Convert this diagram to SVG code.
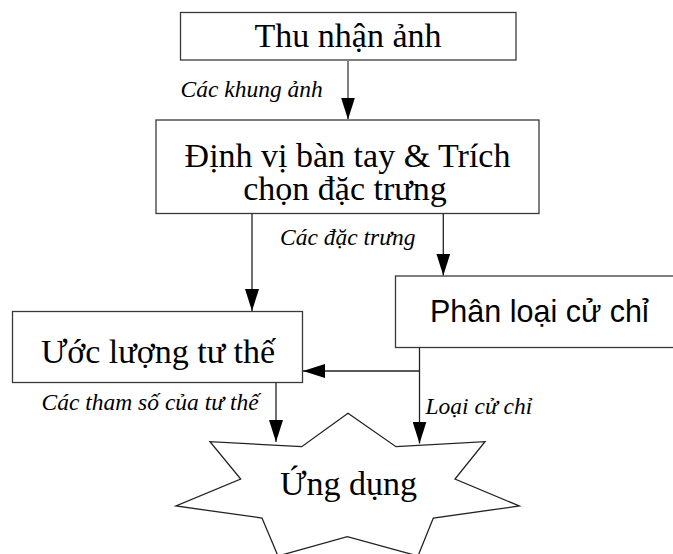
<svg xmlns="http://www.w3.org/2000/svg" width="673" height="554" viewBox="0 0 673 554">
  <style>
    .box { fill: #ffffff; stroke: #3a3a3a; stroke-width: 1.3; }
    .serif { font-family: "Liberation Serif", "Times New Roman", serif; font-size: 34px; fill: #000; }
    .sans { font-family: "Liberation Sans", Arial, sans-serif; font-size: 30.5px; fill: #000; }
    .lbl { font-family: "Liberation Serif", "Times New Roman", serif; font-style: italic; font-size: 23.5px; fill: #000; }
    .wire { fill: none; stroke: #222; stroke-width: 1.3; }
    .wire-grey { fill: none; stroke: #808080; stroke-width: 2; }
  </style>
  <defs>
    <marker id="head" viewBox="0 0 22 14" refX="22" refY="7" markerWidth="22" markerHeight="14" markerUnits="userSpaceOnUse" orient="auto">
      <path d="M0,0 L22,7 L0,14 Z" fill="#000"/>
    </marker>
  </defs>

  <rect width="673" height="554" fill="#ffffff"/>

  <!-- acquisition -->
  <g id="thu-nhan-anh">
    <rect class="box" x="180.5" y="12.5" width="335.5" height="47.5"/>
    <text class="serif" x="348" y="47" text-anchor="middle">Thu nhận ảnh</text>
  </g>

  <!-- hand localisation and feature extraction -->
  <g id="dinh-vi">
    <rect class="box" x="156" y="120" width="383" height="93.5"/>
    <text class="serif" x="347.5" y="166.5" text-anchor="middle">Định vị bàn tay &amp; Trích</text>
    <text class="serif" x="345" y="200" text-anchor="middle">chọn đặc trưng</text>
  </g>

  <!-- gesture classification (runs off the right edge) -->
  <g id="phan-loai">
    <rect class="box" x="395.5" y="276" width="290" height="71.5"/>
    <text class="sans" x="430" y="321.5">Phân loại cử chỉ</text>
  </g>

  <!-- pose estimation -->
  <g id="uoc-luong">
    <rect class="box" x="12.5" y="311.5" width="290" height="71"/>
    <text class="serif" x="158" y="363" text-anchor="middle">Ước lượng tư thế</text>
  </g>

  <!-- application: 7-point star -->
  <g id="ung-dung">
    <polygon points="348,413.3 396,446.7 485,441.7 455,479 519.3,506 433.3,518 418,556 347.3,536.7 278,556 262,518 176,506 240.7,479 210,441.7 301.7,446.7"
             fill="#ffffff" stroke="#222" stroke-width="1.3" stroke-linejoin="miter"/>
    <text class="serif" x="348.5" y="495" text-anchor="middle">Ứng dụng</text>
  </g>

  <!-- connectors -->
  <g id="connectors">
    <line class="wire-grey" x1="348" y1="60" x2="348" y2="119.5" marker-end="url(#head)"/>
    <line class="wire" x1="252" y1="213.5" x2="252" y2="311" marker-end="url(#head)"/>
    <line class="wire" x1="443.3" y1="213.5" x2="443.3" y2="275.5" marker-end="url(#head)"/>
    <line class="wire" x1="419.5" y1="347.5" x2="419.5" y2="443.5" marker-end="url(#head)"/>
    <line class="wire" x1="419.5" y1="371" x2="303" y2="371" marker-end="url(#head)"/>
    <line class="wire" x1="276" y1="383" x2="276" y2="442" marker-end="url(#head)"/>
  </g>

  <!-- connector labels -->
  <g id="labels">
    <text class="lbl" x="180.5" y="96.5">Các khung ảnh</text>
    <text class="lbl" x="280" y="245">Các đặc trưng</text>
    <text class="lbl" x="41.5" y="410">Các tham số của tư thế</text>
    <text class="lbl" x="425.5" y="413.5">Loại cử chỉ</text>
  </g>
</svg>
